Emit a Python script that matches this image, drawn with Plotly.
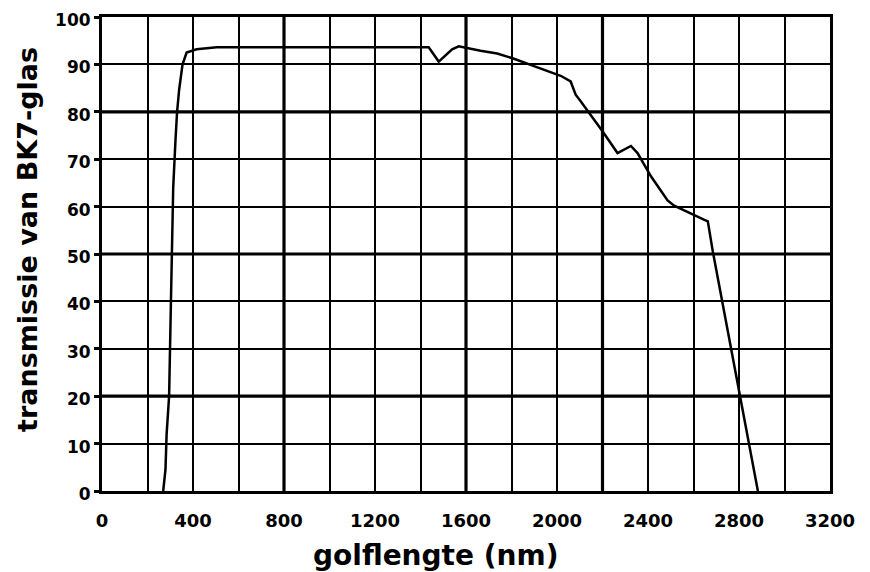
import plotly.graph_objects as go

# Data
wavelength_nm = [269, 279, 284, 295, 303, 313, 323, 330, 339, 350, 354, 372, 416, 504,
                 1436, 1480, 1539, 1568, 1605, 1664, 1737, 1811, 1884, 1958, 2016, 2060,
                 2082, 2104, 2200, 2266, 2325, 2354, 2413, 2486, 2515, 2648, 2663, 2685,
                 2722, 2806, 2883]
transmission = [0, 4.5, 12, 20, 40, 64, 74, 80, 84.6, 88.6, 90, 92.5, 93.2, 93.6,
                93.6, 90.6, 93.2, 93.8, 93.4, 92.9, 92.3, 91.2, 89.9, 88.7, 87.6, 86.4,
                83.6, 82.2, 75.9, 71.3, 72.8, 71.3, 66.4, 61.3, 60.2, 57.2, 56.9, 50.5,
                41.0, 20.3, 0]

x_ticks = [0, 400, 800, 1200, 1600, 2000, 2400, 2800, 3200]
y_ticks = [0, 10, 20, 30, 40, 50, 60, 70, 80, 90, 100]
thick_x = [800, 1600, 2200]
thick_y = [20, 50, 80]

x_title = "golflengte (nm)"
y_title = "transmissie van BK7-glas"

FONT = "DejaVu Sans"

fig = go.Figure()
fig.add_trace(go.Scatter(
    x=wavelength_nm, y=transmission, mode="lines",
    line=dict(color="black", width=2.5), hoverinfo="skip", showlegend=False,
))

shapes = []
for xv in thick_x:
    shapes.append(dict(type="line", xref="x", yref="paper", x0=xv, x1=xv, y0=0, y1=1,
                       line=dict(color="black", width=3.2), layer="below"))
for yv in thick_y:
    shapes.append(dict(type="line", xref="paper", yref="y", x0=0, x1=1, y0=yv, y1=yv,
                       line=dict(color="black", width=3.2), layer="below"))

# page body has an 8px margin; size figure so plot area lands at the reference pixels
fig.update_layout(
    width=854, height=564,
    margin=dict(l=94, r=32, t=9, b=81, autoexpand=False),
    paper_bgcolor="white", plot_bgcolor="white",
    font=dict(family=FONT, color="black"),
    shapes=shapes,
    xaxis=dict(
        range=[0, 3200], tickvals=x_ticks, ticktext=[str(v) for v in x_ticks],
        showgrid=True, gridcolor="black", gridwidth=1.6,
        minor=dict(dtick=200, tick0=0, showgrid=True, gridcolor="black", gridwidth=1.6),
        showline=True, linecolor="black", linewidth=3, mirror=True,
        ticks="", ticklabelstandoff=11, automargin=False, ticklabeloverflow="allow",
        tickfont=dict(family=FONT, size=18, color="black", weight="bold"),
        zeroline=False, fixedrange=True,
    ),
    yaxis=dict(
        range=[0, 100], tickvals=y_ticks, ticktext=[str(v) for v in y_ticks],
        showgrid=True, gridcolor="black", gridwidth=1.6,
        showline=True, linecolor="black", linewidth=3, mirror=True,
        ticks="outside", ticklen=5, tickwidth=3, tickcolor="black", automargin=False,
        ticklabeloverflow="allow", ticklabelshift=3,
        tickfont=dict(family=FONT, size=17, color="black", weight="bold"),
        zeroline=False, fixedrange=True,
    ),
    annotations=[
        dict(text=x_title, xref="paper", yref="paper", x=(435 - 102) / 728, y=-(555 - 491) / 474,
             xanchor="center", yanchor="middle", showarrow=False,
             font=dict(family=FONT, size=28, color="black", weight="bold")),
        dict(text=y_title, xref="paper", yref="paper", x=-(102 - 27) / 728, y=(491 - 240) / 474,
             xanchor="center", yanchor="middle", showarrow=False, textangle=-90,
             font=dict(family=FONT, size=27, color="black", weight="bold")),
    ],
)

fig.write_html("out.html")
